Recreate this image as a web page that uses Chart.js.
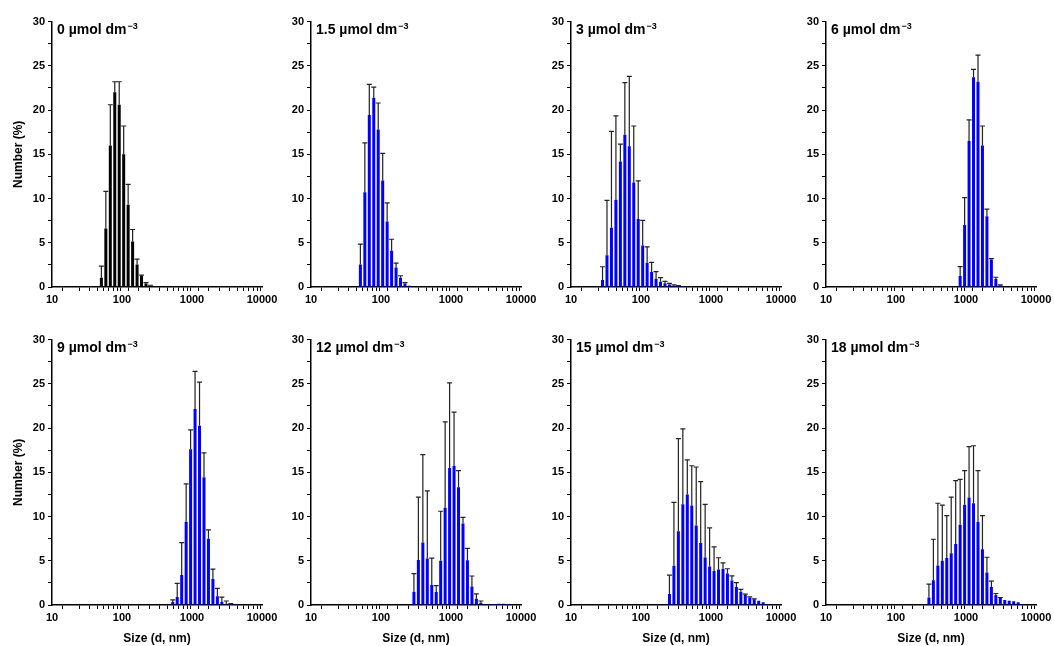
<!DOCTYPE html>
<html>
<head>
<meta charset="utf-8">
<script src="https://cdn.jsdelivr.net/npm/chart.js@4.4.1/dist/chart.umd.min.js"></script>
<style>
  body { margin: 0; background: #fff; }
  #page { position: relative; width: 1054px; height: 646px; overflow: hidden; }
  .panel { position: absolute; }
</style>
</head>
<body>
<div id="page"></div>
<script>
// Kích thước hạt (nm) của các kênh đo DLS, từ 28 đến 8635 nm
const sizes = [
  28.21, 32.67, 37.84, 43.82, 50.75, 58.77, 68.06, 78.82, 91.28, 105.7,
  122.4, 141.8, 164.2, 190.1, 220.2, 255.0, 295.3, 342.0, 396.1, 458.7,
  531.2, 615.1, 712.4, 825.0, 955.4, 1106, 1281, 1484, 1718, 1990,
  2305, 2669, 3091, 3580, 4145, 4801, 5560, 6439, 7456, 8635
];

// Nồng độ của từng ô (µmol dm-3)
const concentrations = ['0', '1.5', '3', '6', '9', '12', '15', '18'];

// Number (%) - giá trị trung bình
const num0 = [
  0, 0, 0, 0, 1.05, 6.6, 16.0, 22.0, 20.6, 15.0,
  9.3, 5.15, 2.55, 1.25, 0.4, 0.15, 0.05, 0, 0, 0,
  0, 0, 0, 0, 0, 0, 0, 0, 0, 0,
  0, 0, 0, 0, 0, 0, 0, 0, 0, 0
];
const num1_5 = [
  0, 0, 0, 0, 2.55, 10.7, 19.45, 21.4, 17.8, 12.05,
  7.4, 4.1, 2.2, 1.05, 0.4, 0.15, 0.05, 0, 0, 0,
  0, 0, 0, 0, 0, 0, 0, 0, 0, 0,
  0, 0, 0, 0, 0, 0, 0, 0, 0, 0
];
const num3 = [
  0.79, 3.6, 6.7, 9.85, 14.2, 17.2, 15.9, 11.8, 7.7, 4.68,
  2.73, 1.69, 0.94, 0.6, 0.41, 0.28, 0.17, 0.1, 0.06, 0.04,
  0.02, 0, 0, 0, 0, 0, 0, 0, 0, 0,
  0, 0, 0, 0, 0, 0, 0, 0, 0, 0
];
const num6 = [
  0, 0, 0, 0, 0, 0, 0, 0, 0, 0,
  0, 0, 0, 0, 0, 0, 0, 0, 0, 0,
  0, 0, 0, 1.24, 7.0, 16.5, 23.7, 23.2, 16.0, 8.0,
  3.1, 0.9, 0.2, 0, 0, 0, 0, 0, 0, 0
];
const num9 = [
  0, 0, 0, 0, 0, 0, 0, 0, 0, 0,
  0, 0, 0, 0, 0, 0, 0, 0, 0, 0,
  0.34, 0.9, 3.4, 9.4, 17.6, 22.15, 20.26, 14.45, 7.5, 2.95,
  0.98, 0.34, 0.15, 0.07, 0.03, 0, 0, 0, 0, 0
];
const num12 = [
  0, 0, 0, 0, 0, 0, 0, 0, 0, 0,
  0, 0, 0, 0, 0, 0, 1.5, 5.1, 7.06, 5.25,
  2.26, 1.47, 5.0, 11.0, 15.5, 15.7, 13.3, 9.2, 5.06, 2.08,
  0.72, 0.26, 0.05, 0.08, 0.12, 0.15, 0.15, 0.1, 0.05, 0
];
const num15 = [
  0, 0, 0, 0, 0, 0, 0, 0, 0, 0,
  0, 0, 0, 0, 0.08, 1.24, 4.44, 8.35, 11.4, 12.5,
  11.24, 9.0, 7.0, 5.38, 4.36, 3.83, 4.02, 4.1, 3.57, 2.78,
  2.03, 1.5, 1.13, 0.86, 0.64, 0.49, 0.3, 0.11, 0.03, 0
];
const num18 = [
  0, 0, 0, 0, 0, 0, 0, 0, 0, 0,
  0, 0, 0, 0, 0, 0.1, 0.85, 2.8, 4.46, 5.0,
  5.3, 5.84, 6.9, 9.07, 11.34, 12.16, 11.5, 9.37, 6.3, 3.68,
  2.04, 1.12, 0.78, 0.56, 0.48, 0.41, 0.3, 0.1, 0, 0
];

// Độ lệch chuẩn (chỉ vẽ phía trên)
const sd0 = [
  0, 0, 0, 0, 1.3, 4.2, 4.6, 1.2, 2.6, 3.2,
  2.3, 1.35, 0.6, 0.1, 0.1, 0.05, 0, 0, 0, 0,
  0, 0, 0, 0, 0, 0, 0, 0, 0, 0,
  0, 0, 0, 0, 0, 0, 0, 0, 0, 0
];
const sd1_5 = [
  0, 0, 0, 0, 2.3, 5.6, 3.45, 1.2, 3.0, 3.05,
  2.1, 1.3, 0.5, 0.22, 0.1, 0, 0, 0, 0, 0,
  0, 0, 0, 0, 0, 0, 0, 0, 0, 0,
  0, 0, 0, 0, 0, 0, 0, 0, 0, 0
];
const sd3 = [
  1.5, 6.2, 10.9, 9.5, 1.95, 5.9, 7.9, 6.4, 4.3, 2.85,
  1.8, 1.1, 0.8, 0.45, 0.23, 0.12, 0.08, 0.05, 0, 0,
  0, 0, 0, 0, 0, 0, 0, 0, 0, 0,
  0, 0, 0, 0, 0, 0, 0, 0, 0, 0
];
const sd6 = [
  0, 0, 0, 0, 0, 0, 0, 0, 0, 0,
  0, 0, 0, 0, 0, 0, 0, 0, 0, 0,
  0, 0, 0, 1.06, 3.1, 2.4, 0.9, 3.0, 2.2, 0.8,
  0.1, 0.2, 0.05, 0, 0, 0, 0, 0, 0, 0
];
const sd9 = [
  0, 0, 0, 0, 0, 0, 0, 0, 0, 0,
  0, 0, 0, 0, 0, 0, 0, 0, 0, 0,
  0.23, 1.55, 3.65, 4.3, 2.2, 4.25, 4.94, 2.75, 1.0, 1.1,
  0.9, 0.56, 0.3, 0.08, 0, 0, 0, 0, 0, 0
];
const sd12 = [
  0, 0, 0, 0, 0, 0, 0, 0, 0, 0,
  0, 0, 0, 0, 0, 0, 2.05, 7.1, 9.94, 7.65,
  3.04, 0.73, 5.6, 9.7, 9.6, 6.1, 1.9, 0.7, 1.34, 1.2,
  0.53, 0.19, 0, 0, 0, 0, 0, 0, 0, 0
];
const sd15 = [
  0, 0, 0, 0, 0, 0, 0, 0, 0, 0,
  0, 0, 0, 0, 0, 2.14, 7.16, 10.45, 8.5, 3.9,
  4.5, 6.6, 6.95, 6.0, 4.36, 2.75, 1.32, 0.67, 0.53, 0.52,
  0.49, 0.27, 0.11, 0.06, 0.06, 0, 0, 0, 0, 0
];
const sd18 = [
  0, 0, 0, 0, 0, 0, 0, 0, 0, 0,
  0, 0, 0, 0, 0, 0, 1.5, 4.63, 7.04, 6.3,
  4.8, 6.36, 7.15, 5.13, 3.86, 5.74, 6.5, 5.83, 3.8, 1.72,
  0.66, 0.18, 0.07, 0, 0, 0, 0, 0, 0, 0
];

const allNum = [num0, num1_5, num3, num6, num9, num12, num15, num18];
const allSd = [sd0, sd1_5, sd3, sd6, sd9, sd12, sd15, sd18];

// Trục
const xTicksMain = [10, 100, 1000, 10000];
const yMax = 30;

// Vị trí các ô (pixel)
const panelLeft = [52, 311, 571, 826];
const rowTop = [20, 338];
const rowBottom = [287, 605];
const plotWidth = 210;
const padLeft = 50, padTop = 8, padRight = 22;
const xAxisHeight = [22, 41];

Chart.defaults.font.family = '"Liberation Sans", Arial, sans-serif';
Chart.defaults.font.weight = 'bold';
Chart.defaults.font.size = 11;
Chart.defaults.color = '#000';

// Plugin vẽ thanh sai số (chỉ phía trên)
const errorBars = {
    id: 'errorBars',
    afterDatasetsDraw(chart) {
        const ds = chart.data.datasets[0];
        const meta = chart.getDatasetMeta(0);
        const yScale = chart.scales.y;
        const ctx = chart.ctx;
        ctx.save();
        ctx.strokeStyle = '#222';
        ctx.lineWidth = 1.2;
        meta.data.forEach((bar, i) => {
            const p = ds.data[i];
            if (!p.err) return;
            const yTop = yScale.getPixelForValue(p.y + p.err);
            ctx.beginPath();
            ctx.moveTo(bar.x, bar.y);
            ctx.lineTo(bar.x, yTop);
            ctx.moveTo(bar.x - 2.5, yTop);
            ctx.lineTo(bar.x + 2.5, yTop);
            ctx.stroke();
        });
        ctx.restore();
    }
};

// Plugin vẽ nhãn nồng độ trong ô
const panelLabel = {
    id: 'panelLabel',
    afterDraw(chart, args, opts) {
        const ctx = chart.ctx;
        const x = chart.chartArea.left + 5;
        const y = chart.chartArea.top + 12;
        ctx.save();
        ctx.fillStyle = '#000';
        ctx.textBaseline = 'alphabetic';
        ctx.font = 'bold 14px "Liberation Sans", Arial, sans-serif';
        const text = opts.text + ' µmol dm';
        ctx.fillText(text, x, y);
        const w = ctx.measureText(text).width;
        ctx.font = 'bold 9px "Liberation Sans", Arial, sans-serif';
        ctx.fillText('\u22123', x + w + 1, y - 5);
        ctx.restore();
    }
};

function createPanel(k) {
    const row = Math.floor(k / 4);
    const col = k % 4;
    const page = document.getElementById('page');
    const box = document.createElement('div');
    box.className = 'panel';
    const h = padTop + (rowBottom[row] - rowTop[row]) + xAxisHeight[row];
    box.style.left = (panelLeft[col] - padLeft) + 'px';
    box.style.top = (rowTop[row] - padTop) + 'px';
    box.style.width = (padLeft + plotWidth + padRight) + 'px';
    box.style.height = h + 'px';
    const canvas = document.createElement('canvas');
    box.appendChild(canvas);
    page.appendChild(box);

    // Chỉ giữ các kênh có giá trị khác 0
    const points = sizes
        .map((s, i) => ({x: s, y: allNum[k][i], err: allSd[k][i]}))
        .filter(p => p.y > 0);

    new Chart(canvas.getContext('2d'), {
        type: 'bar',
        data: {
            datasets: [{
                data: points,
                backgroundColor: k === 0 ? '#000000' : '#0000ff',
                borderWidth: 0,
                inflateAmount: 0,
                barThickness: 3
            }]
        },
        options: {
            responsive: true,
            maintainAspectRatio: false,
            animation: false,
            layout: {padding: {left: 0, top: padTop, right: padRight, bottom: 0}},
            plugins: {
                legend: {display: false},
                tooltip: {enabled: false},
                panelLabel: {text: concentrations[k]}
            },
            scales: {
                x: {
                    type: 'logarithmic',
                    min: 10,
                    max: 10000,
                    afterFit(scale) { scale.height = xAxisHeight[row]; },
                    border: {display: true, color: '#000', width: 1.5},
                    grid: {display: true, drawOnChartArea: false, drawTicks: true, tickLength: 4, tickColor: '#000', tickWidth: 1},
                    ticks: {
                        autoSkip: false,
                        maxRotation: 0,
                        padding: 2,
                        callback: (v) => xTicksMain.includes(v) ? String(v) : ''
                    },
                    title: {
                        display: row === 1,
                        text: 'Size (d, nm)',
                        font: {size: 12, weight: 'bold'},
                        padding: {top: 0, bottom: 0}
                    }
                },
                y: {
                    min: 0,
                    max: yMax,
                    afterFit(scale) { scale.width = padLeft; },
                    border: {display: true, color: '#000', width: 1.5},
                    grid: {display: true, drawOnChartArea: false, drawTicks: true, tickLength: 4, tickColor: '#000', tickWidth: 1},
                    ticks: {
                        stepSize: 2.5,
                        autoSkip: false,
                        padding: 3,
                        callback: (v) => v % 5 === 0 ? String(v) : ''
                    },
                    title: {
                        display: col === 0,
                        text: 'Number (%)',
                        font: {size: 12, weight: 'bold'},
                        padding: {top: 9, bottom: 0}
                    }
                }
            }
        },
        plugins: [errorBars, panelLabel]
    });
}

document.addEventListener('DOMContentLoaded', function () {
    for (let k = 0; k < 8; k++) {
        createPanel(k);
    }
});
</script>
</body>
</html>
